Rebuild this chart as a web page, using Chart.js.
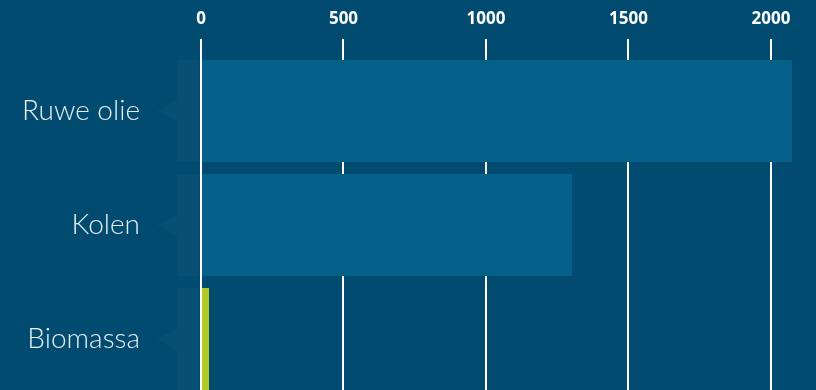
<!DOCTYPE html>
<html>
<head>
<meta charset="utf-8">
<script src="https://cdn.jsdelivr.net/npm/chart.js@4.4.1/dist/chart.umd.min.js"></script>
<style>
  html, body { margin: 0; padding: 0; background: #024b70; overflow: hidden; }
  #wrap { position: relative; width: 816px; height: 396px; }
</style>
</head>
<body>
<div id="wrap"><canvas id="chart"></canvas></div>
<script>
const categories = ['Ruwe olie', 'Kolen', 'Biomassa'];
const values = [2074, 1302, 28];
const tickValues = [0, 500, 1000, 1500, 2000];
const barColors = ['#05618a', '#05618a', '#b4c827'];

// faint tab shape to the left of each row
const rowTabs = {
    id: 'rowTabs',
    beforeDatasetsDraw(chart) {
        const { ctx, scales: { x, y } } = chart;
        const x0 = x.getPixelForValue(0);
        const step = y.getPixelForValue(1) - y.getPixelForValue(0);
        ctx.save();
        ctx.fillStyle = 'rgba(255,255,255,0.025)';
        categories.forEach((c, i) => {
            const cy = y.getPixelForValue(i);
            const h = step * 0.895 / 2;
            ctx.fillRect(x0 - 24, cy - h, 22, h * 2);
            ctx.beginPath();
            ctx.moveTo(x0 - 24, cy - 11);
            ctx.lineTo(x0 - 44, cy);
            ctx.lineTo(x0 - 24, cy + 11);
            ctx.closePath();
            ctx.fill();
        });
        ctx.restore();
    }
};

new Chart(document.getElementById('chart'), {
    type: 'bar',
    data: {
        labels: categories,
        datasets: [{
            data: values,
            backgroundColor: barColors,
            borderWidth: 0,
            categoryPercentage: 1,
            barPercentage: 0.895
        }]
    },
    options: {
        indexAxis: 'y',
        responsive: true,
        maintainAspectRatio: false,
        animation: false,
        layout: { padding: 0 },
        plugins: {
            legend: { display: false },
            tooltip: { enabled: false }
        },
        scales: {
            x: {
                position: 'top',
                min: 0,
                max: 2158,
                z: 1,
                afterBuildTicks: (scale) => {
                    scale.ticks = tickValues.map(v => ({ value: v }));
                },
                afterFit: (scale) => {
                    scale.height = 54;
                    scale.paddingLeft = 0;
                    scale.paddingRight = 0;
                },
                grid: {
                    color: '#ffffff',
                    lineWidth: 2,
                    tickLength: 15
                },
                border: { display: false },
                ticks: {
                    color: '#ffffff',
                    padding: 10,
                    callback: (v) => String(v),
                    font: { family: 'Open Sans', size: 17, weight: 'bold' }
                }
            },
            y: {
                afterFit: (scale) => {
                    scale.width = 201;
                    scale.paddingTop = 0;
                    scale.paddingBottom = 0;
                },
                grid: { display: false, drawTicks: false },
                border: { display: false },
                ticks: {
                    color: '#e6eef2',
                    padding: 61,
                    font: { family: 'Lato', size: 28, weight: '300' }
                }
            }
        }
    },
    plugins: [rowTabs]
});
</script>
</body>
</html>
